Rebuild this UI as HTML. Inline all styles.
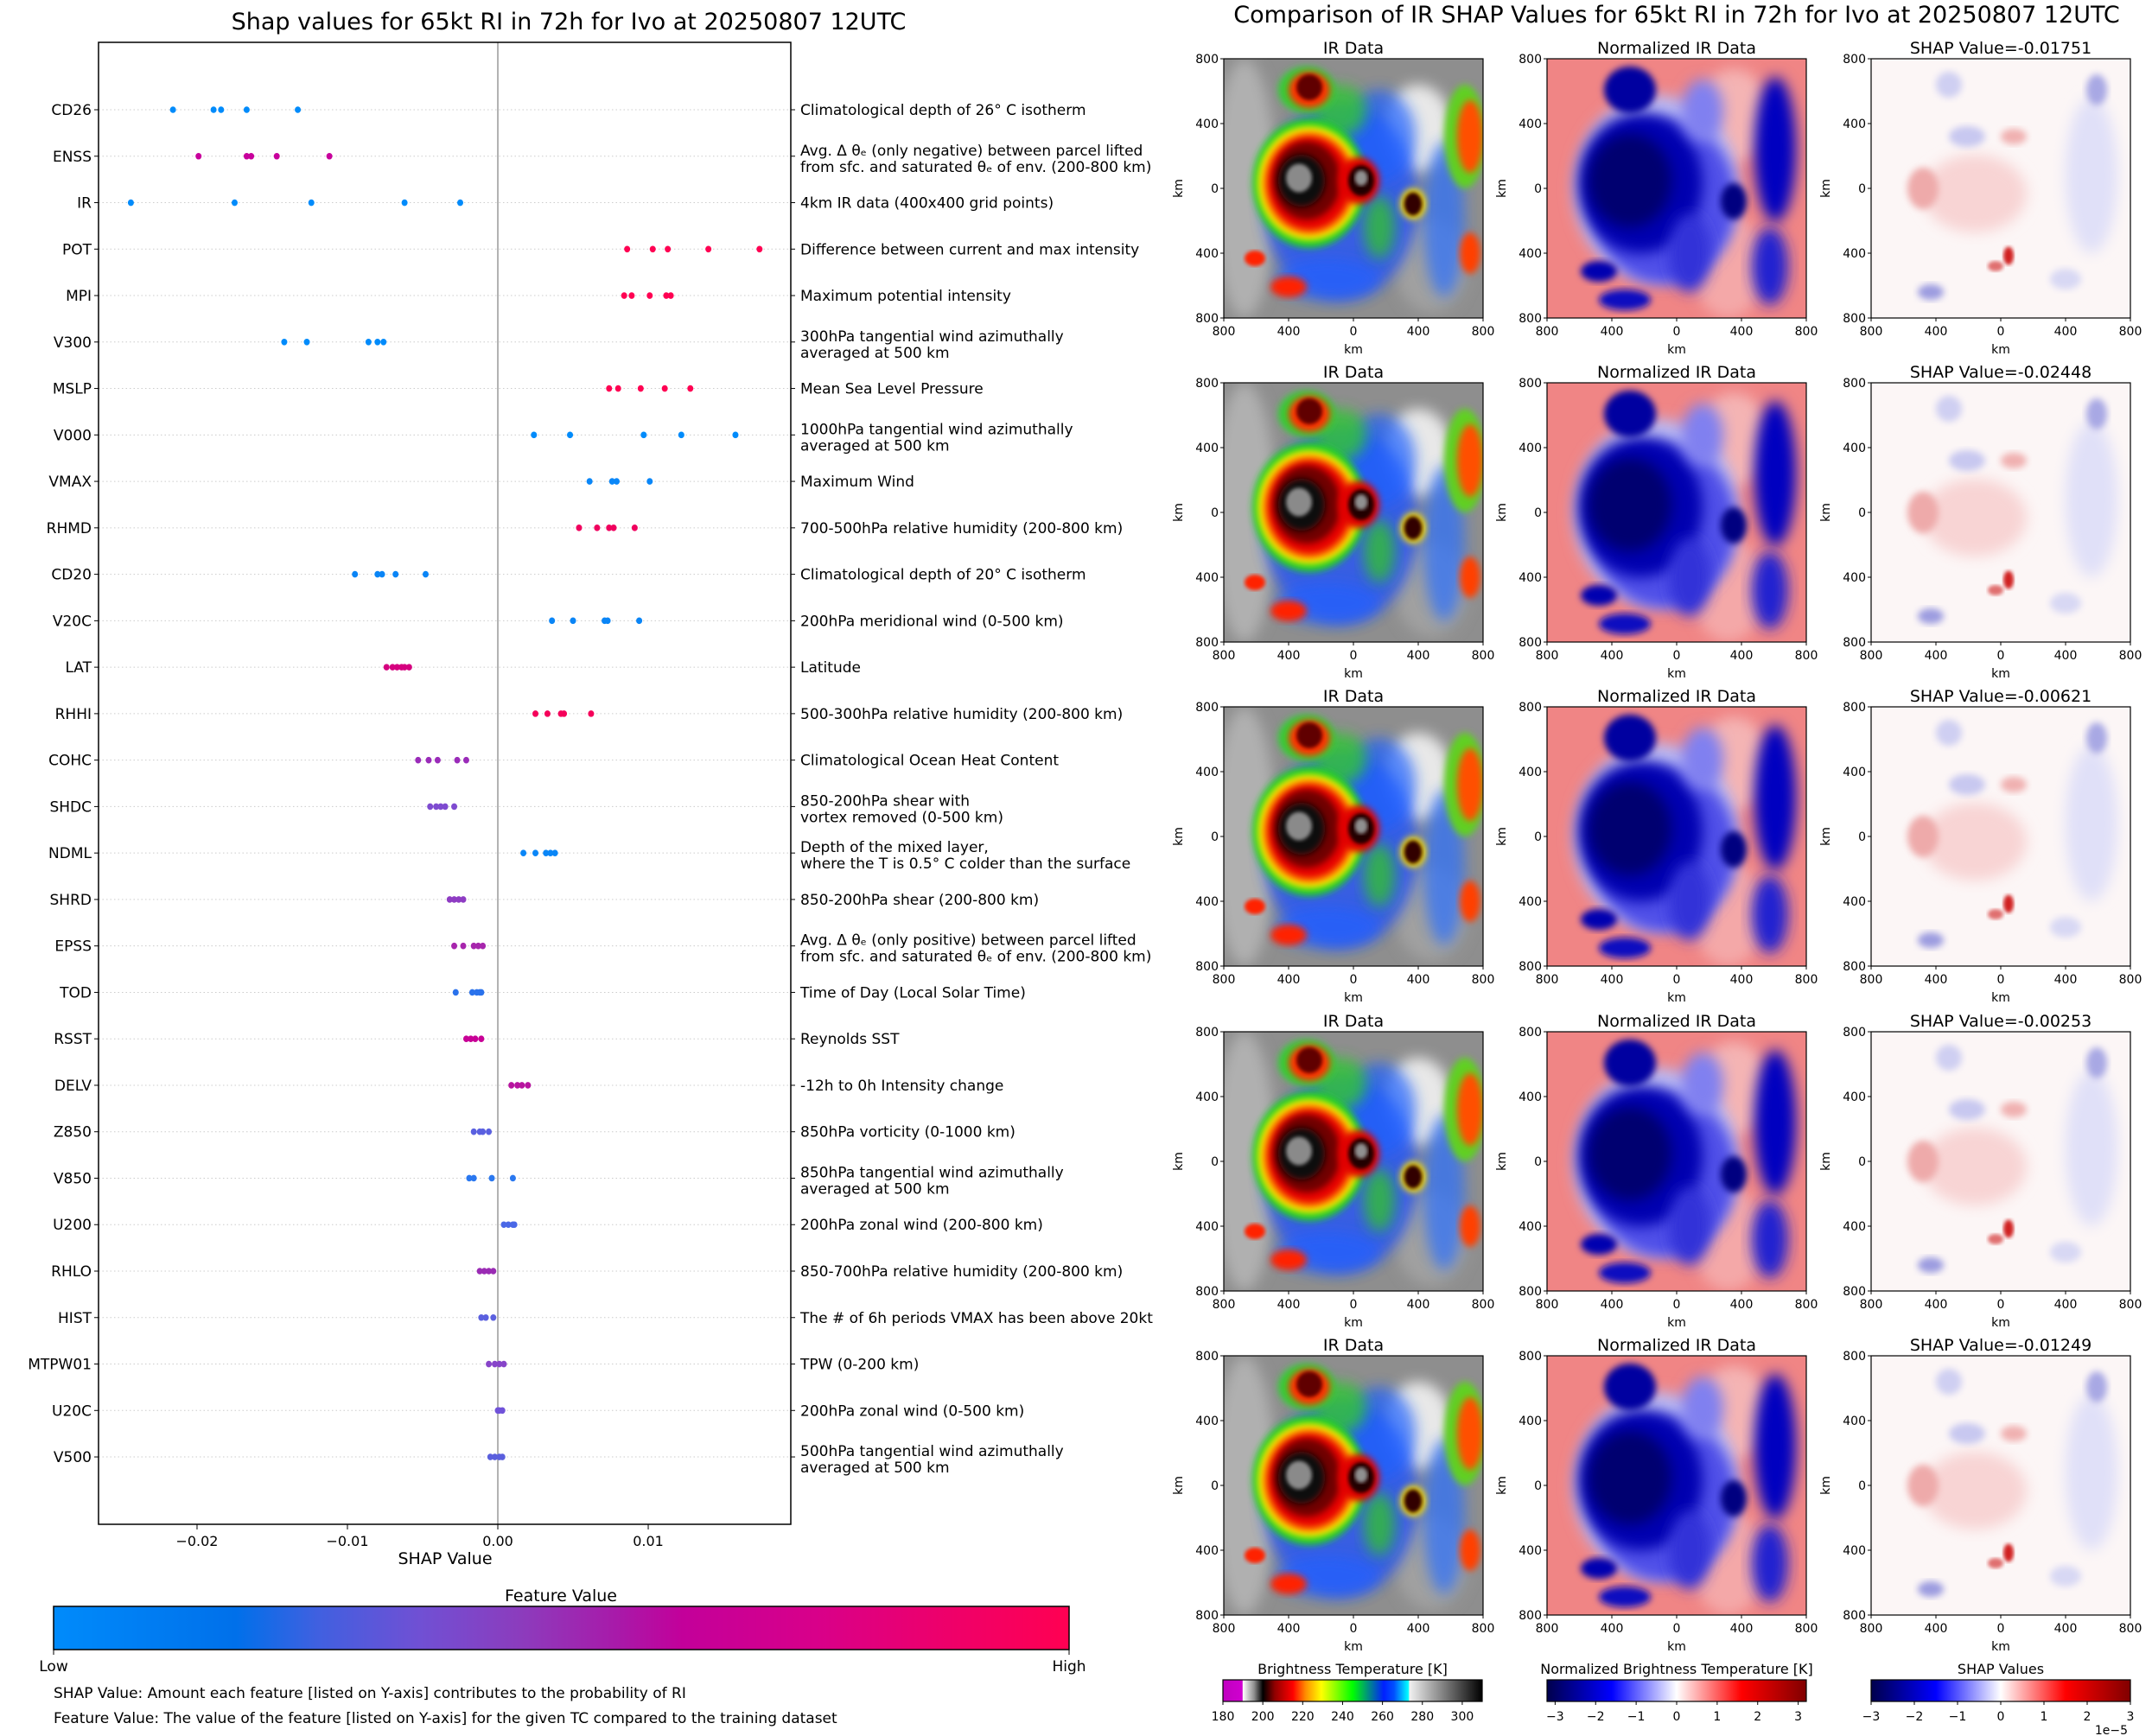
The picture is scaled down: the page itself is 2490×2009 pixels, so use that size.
<!DOCTYPE html>
<html><head><meta charset="utf-8"><style>
html,body{margin:0;padding:0;background:#fff;}
svg{display:block;font-family:"DejaVu Sans","Liberation Sans",sans-serif;}
</style></head><body>
<svg id="root" xmlns="http://www.w3.org/2000/svg" width="2490" height="2009" viewBox="0 0 2490 2009">
<defs>
<filter id="b4" x="-20%" y="-20%" width="140%" height="140%"><feGaussianBlur stdDeviation="4"/></filter>
<filter id="b8" x="-30%" y="-30%" width="160%" height="160%"><feGaussianBlur stdDeviation="8"/></filter>
<filter id="b2"><feGaussianBlur stdDeviation="2"/></filter>
<linearGradient id="fvGrad" x1="0" x2="1" y1="0" y2="0">
<stop offset="0" stop-color="#008bfb"/><stop offset="0.18" stop-color="#0070ea"/><stop offset="0.26" stop-color="#4060e0"/>
<stop offset="0.36" stop-color="#7050d4"/><stop offset="0.46" stop-color="#8c3cbd"/><stop offset="0.56" stop-color="#aa18a8"/>
<stop offset="0.62" stop-color="#c3009a"/><stop offset="0.75" stop-color="#d8008a"/><stop offset="0.88" stop-color="#ee006a"/><stop offset="1" stop-color="#ff0052"/>
</linearGradient>
<linearGradient id="btGrad" x1="0" x2="1" y1="0" y2="0">
<stop offset="0" stop-color="#c000c0"/><stop offset="0.075" stop-color="#d000d0"/><stop offset="0.077" stop-color="#ffffff"/>
<stop offset="0.12" stop-color="#909090"/><stop offset="0.154" stop-color="#000000"/><stop offset="0.2" stop-color="#900000"/>
<stop offset="0.27" stop-color="#ff0000"/><stop offset="0.32" stop-color="#ff9000"/><stop offset="0.38" stop-color="#ffff00"/>
<stop offset="0.5" stop-color="#00ff00"/><stop offset="0.62" stop-color="#0020ff"/><stop offset="0.66" stop-color="#0050ff"/>
<stop offset="0.715" stop-color="#00ffff"/><stop offset="0.72" stop-color="#f0f0f0"/><stop offset="1" stop-color="#000000"/>
</linearGradient>
<linearGradient id="seisGrad" x1="0" x2="1" y1="0" y2="0">
<stop offset="0" stop-color="#00004c"/><stop offset="0.25" stop-color="#0000ff"/><stop offset="0.5" stop-color="#ffffff"/>
<stop offset="0.75" stop-color="#ff0000"/><stop offset="1" stop-color="#800000"/>
</linearGradient>
</defs>
<text x="658" y="34" font-size="27" text-anchor="middle" fill="#000">Shap values for 65kt RI in 72h for Ivo at 20250807 12UTC</text>
<text x="1940" y="26" font-size="27" text-anchor="middle" fill="#000">Comparison of IR SHAP Values for 65kt RI in 72h for Ivo at 20250807 12UTC</text>
<g id="shapChart"></g>
<g id="panels"></g>
</svg>
<script>
const features=["CD26","ENSS","IR","POT","MPI","V300","MSLP","V000","VMAX","RHMD","CD20","V20C","LAT","RHHI","COHC","SHDC","NDML","SHRD","EPSS","TOD","RSST","DELV","Z850","V850","U200","RHLO","HIST","MTPW01","U20C","V500"];
const descriptions=[
["Climatological depth of 26° C isotherm"],
["Avg. Δ θₑ (only negative) between parcel lifted","from sfc. and saturated θₑ of env. (200-800 km)"],
["4km IR data (400x400 grid points)"],
["Difference between current and max intensity"],
["Maximum potential intensity"],
["300hPa tangential wind azimuthally","averaged at 500 km"],
["Mean Sea Level Pressure"],
["1000hPa tangential wind azimuthally","averaged at 500 km"],
["Maximum Wind"],
["700-500hPa relative humidity (200-800 km)"],
["Climatological depth of 20° C isotherm"],
["200hPa meridional wind (0-500 km)"],
["Latitude"],
["500-300hPa relative humidity (200-800 km)"],
["Climatological Ocean Heat Content"],
["850-200hPa shear with","vortex removed (0-500 km)"],
["Depth of the mixed layer,","where the T is 0.5° C colder than the surface"],
["850-200hPa shear (200-800 km)"],
["Avg. Δ θₑ (only positive) between parcel lifted","from sfc. and saturated θₑ of env. (200-800 km)"],
["Time of Day (Local Solar Time)"],
["Reynolds SST"],
["-12h to 0h Intensity change"],
["850hPa vorticity (0-1000 km)"],
["850hPa tangential wind azimuthally","averaged at 500 km"],
["200hPa zonal wind (200-800 km)"],
["850-700hPa relative humidity (200-800 km)"],
["The # of 6h periods VMAX has been above 20kt"],
["TPW (0-200 km)"],
["200hPa zonal wind (0-500 km)"],
["500hPa tangential wind azimuthally","averaged at 500 km"]];
const shapValues=[
[-0.0216,-0.0189,-0.0184,-0.0167,-0.0133],
[-0.0199,-0.0167,-0.0164,-0.0147,-0.0112],
[-0.0244,-0.0175,-0.0124,-0.0062,-0.0025],
[0.0086,0.0103,0.0113,0.0140,0.0174],
[0.0084,0.0089,0.0101,0.0112,0.0115],
[-0.0142,-0.0127,-0.0086,-0.0080,-0.0076],
[0.0074,0.0080,0.0095,0.0111,0.0128],
[0.0024,0.0048,0.0097,0.0122,0.0158],
[0.0061,0.0076,0.0079,0.0101],
[0.0054,0.0066,0.0074,0.0077,0.0091],
[-0.0095,-0.0080,-0.0077,-0.0068,-0.0048],
[0.0036,0.0050,0.0071,0.0073,0.0094],
[-0.0074,-0.0070,-0.0067,-0.0064,-0.0062,-0.0059],
[0.0025,0.0033,0.0042,0.0044,0.0062],
[-0.0053,-0.0046,-0.0040,-0.0027,-0.0021],
[-0.0045,-0.0041,-0.0038,-0.0035,-0.0029],
[0.0017,0.0025,0.0032,0.0035,0.0038],
[-0.0032,-0.0029,-0.0026,-0.0023],
[-0.0029,-0.0023,-0.0016,-0.0013,-0.0010],
[-0.0028,-0.0017,-0.0014,-0.0012,-0.0011],
[-0.0021,-0.0018,-0.0015,-0.0011],
[0.0009,0.0013,0.0016,0.0020],
[-0.0016,-0.0012,-0.0010,-0.0006],
[-0.0019,-0.0016,-0.0004,0.0010],
[0.0004,0.0007,0.0010,0.0011],
[-0.0012,-0.0009,-0.0006,-0.0003],
[-0.0011,-0.0008,-0.0003],
[-0.0006,-0.0002,0.0001,0.0004],
[0.0000,0.0001,0.0003],
[-0.0005,-0.0002,0.0001,0.0003]];
const dotColors=["#008bfb","#c8009c","#008bfb","#ff0052","#ff0052","#008bfb","#ff0052","#008bfb","#0a87f8","#f0005e","#0a85f6","#0a85f6","#d5007f","#f5005a","#9a2bb9","#7e4bd0","#0a86f7","#8e3cc3","#a726ad","#2a72ec","#c80096","#b7149f","#5a60e0","#2a78f0","#4a68e6","#9a2bb4","#5b60df","#8744c9","#7052d9","#5a5fdd"];
const xTicks=[-0.02,-0.01,0.0,0.01];
const xTickLabels=["−0.02","−0.01","0.00","0.01"];

const NS="http://www.w3.org/2000/svg";
function mk(tag,attrs,parent,txt){const e=document.createElementNS(NS,tag);for(const k in attrs)e.setAttribute(k,attrs[k]);if(txt!==undefined)e.textContent=txt;parent.appendChild(e);return e;}

const AX={l:114,r:915,t:49,b:1764};
const xMin=-0.02655,xMax=0.01948;
function xs(v){return AX.l+(v-xMin)/(xMax-xMin)*(AX.r-AX.l);}
const rowStep=53.76;
function ys(i){return 127+i*rowStep;}

const C=document.getElementById('shapChart');
features.forEach((f,i)=>{
  const y=ys(i);
  const gl=mk('line',{x1:AX.l,x2:AX.r,y1:y,y2:y,stroke:'#ccc','stroke-width':1,'stroke-dasharray':'1.5 3'},C);
  
  
  mk('line',{x1:AX.l-5,x2:AX.l,y1:y,y2:y,stroke:'#000'},C);
  mk('line',{x1:AX.r,x2:AX.r+5,y1:y,y2:y,stroke:'#000'},C);
  const t=mk('text',{x:AX.l-8,y:y+6,'font-size':17,'text-anchor':'end',fill:'#000'},C,f);
  
  
  const d=descriptions[i];
  if(d.length===1){
    const dt=mk('text',{x:926,y:y+6,'font-size':17,fill:'#000'},C,d[0]);
    
    
  }else{
    const dt=mk('text',{x:926,y:y-1,'font-size':17,fill:'#000'},C,d[0]);
    
    
    const dt2=mk('text',{x:926,y:y+18,'font-size':17,fill:'#000'},C,d[1]);
    
    
  }
});
const zl=mk('line',{x1:xs(0),x2:xs(0),y1:AX.t,y2:AX.b,stroke:'#999','stroke-width':1.5},C);


shapValues.forEach((vals,i)=>{
  vals.forEach(v=>{
    const c=mk('ellipse',{cx:xs(v),cy:ys(i),rx:3.5,ry:3.8,fill:dotColors[i]},C);
    
    
  });
});
const fr=mk('rect',{x:AX.l,y:AX.t,width:AX.r-AX.l,height:AX.b-AX.t,fill:'none',stroke:'#000','stroke-width':1.5},C);


xTicks.forEach((v,k)=>{
  const x=xs(v);
  mk('line',{x1:x,x2:x,y1:AX.b,y2:AX.b+6,stroke:'#000'},C);
  const t=mk('text',{x:x,y:AX.b+25,'font-size':16,'text-anchor':'middle',fill:'#000'},C,xTickLabels[k]);
  
  
});
const xl=mk('text',{x:515,y:1810,'font-size':19,'text-anchor':'middle',fill:'#000'},C,'SHAP Value');


const ft=mk('text',{x:649,y:1853,'font-size':19,'text-anchor':'middle',fill:'#000'},C,'Feature Value');


const cb=mk('rect',{x:62,y:1859,width:1175,height:50,fill:'url(#fvGrad)',stroke:'#000','stroke-width':1.5},C);


mk('line',{x1:62,x2:62,y1:1909,y2:1915,stroke:'#000'},C);
mk('line',{x1:1237,x2:1237,y1:1909,y2:1915,stroke:'#000'},C);
const lo=mk('text',{x:62,y:1934,'font-size':17,'text-anchor':'middle',fill:'#000'},C,'Low');


const hi=mk('text',{x:1237,y:1934,'font-size':17,'text-anchor':'middle',fill:'#000'},C,'High');


const n1=mk('text',{x:62,y:1965,'font-size':17,fill:'#000'},C,'SHAP Value: Amount each feature [listed on Y-axis] contributes to the probability of RI');


const n2=mk('text',{x:62,y:1994,'font-size':17,fill:'#000'},C,'Feature Value: The value of the feature [listed on Y-axis] for the given TC compared to the training dataset');



// ---- right panels ----
const rowTops=[68,443,818,1194,1569];
const colXs=[1416,1790,2165];
const shapTitles=["SHAP Value=-0.01751","SHAP Value=-0.02448","SHAP Value=-0.00621","SHAP Value=-0.00253","SHAP Value=-0.01249"];
const P=document.getElementById('panels');
const S=300;
// blobs: [u,v,rx,ry,color,blur,opacity]; first entry = background fill
const irBlobs=[
['bg','#8e8e8e'],
[0.08,0.5,0.12,0.5,'#b0b0b0','b8'],
[0.75,0.27,0.13,0.17,'#e8e8e8','b8'],
[0.8,0.8,0.14,0.18,'#a0a0a0','b8'],
[0.45,0.55,0.3,0.38,'#1a50ff','b8',0.75],
[0.6,0.3,0.14,0.18,'#1a60ff','b8',0.7],
[0.4,0.85,0.2,0.08,'#2060ff','b8',0.7],
[0.85,0.62,0.08,0.3,'#2a70ff','b8',0.7],
[0.45,0.2,0.1,0.1,'#30c830','b8',0.8],
[0.33,0.48,0.22,0.25,'#20d020','b4'],
[0.32,0.12,0.11,0.09,'#30d030','b4'],
[0.93,0.3,0.08,0.2,'#60d020','b4'],
[0.6,0.65,0.06,0.12,'#30c030','b8',0.8],
[0.33,0.48,0.2,0.22,'#f0f000','b4'],
[0.33,0.48,0.18,0.2,'#ff8000','b4'],
[0.33,0.48,0.16,0.18,'#e80000','b4'],
[0.32,0.47,0.13,0.15,'#700000','b4'],
[0.3,0.47,0.09,0.1,'#101010','b4'],
[0.29,0.46,0.05,0.055,'#8a8a8a','b2'],
[0.52,0.47,0.08,0.09,'#e00000','b4'],
[0.53,0.47,0.05,0.06,'#200000','b2'],
[0.53,0.46,0.025,0.03,'#909090','b2'],
[0.33,0.12,0.08,0.07,'#ff3000','b4'],
[0.33,0.11,0.05,0.05,'#600000','b2'],
[0.95,0.3,0.05,0.14,'#ff5000','b4'],
[0.73,0.56,0.05,0.06,'#ffe000','b4'],
[0.73,0.56,0.035,0.045,'#300000','b2'],
[0.25,0.88,0.07,0.04,'#ff2000','b4'],
[0.12,0.77,0.04,0.03,'#ff2000','b2'],
[0.95,0.75,0.04,0.08,'#ff4000','b4']];
const nirBlobs=[
['bg','#f08585'],
[0.72,0.22,0.14,0.18,'#f4b4b4','b8'],
[0.7,0.8,0.14,0.2,'#f4a8a8','b8'],
[0.42,0.5,0.32,0.36,'#b8b8f4','b8'],
[0.45,0.55,0.28,0.32,'#5050e8','b8'],
[0.36,0.48,0.24,0.27,'#0000b0','b8'],
[0.32,0.47,0.16,0.18,'#000070','b8'],
[0.32,0.12,0.1,0.09,'#0000a0','b4'],
[0.6,0.2,0.08,0.12,'#8080f0','b8'],
[0.88,0.35,0.08,0.28,'#0000c0','b8'],
[0.86,0.8,0.07,0.15,'#2020d0','b8'],
[0.55,0.75,0.08,0.15,'#3030d8','b8'],
[0.2,0.82,0.07,0.04,'#0000b0','b4'],
[0.3,0.93,0.1,0.04,'#1010c0','b4'],
[0.72,0.55,0.05,0.07,'#000080','b4']];
const shapBlobs=[
['bg','#fcf6f6'],
[0.4,0.52,0.2,0.15,'#f8d4d4','b8'],
[0.2,0.5,0.06,0.08,'#eeaaaa','b4'],
[0.37,0.3,0.07,0.04,'#c8c8f0','b4'],
[0.85,0.45,0.1,0.3,'#e0e0f8','b8'],
[0.87,0.12,0.04,0.06,'#a8a8e4','b4'],
[0.3,0.1,0.05,0.05,'#cfcff2','b4'],
[0.53,0.76,0.02,0.035,'#d02020','b2'],
[0.48,0.8,0.03,0.02,'#e07070','b2'],
[0.23,0.9,0.05,0.03,'#9c9ce0','b4'],
[0.55,0.3,0.05,0.03,'#f0b0b0','b4'],
[0.75,0.85,0.06,0.04,'#d8d8f4','b4']];
const yTickLabels=["800","400","0","400","800"];
const xTickLabelsKm=["800","400","0","400","800"];
function panel(x0,y0,blobs,title,id){
  const g=mk('g',{},P);
  
  
  const cp=mk('clipPath',{id:'cp'+id},g);
  mk('rect',{x:x0,y:y0,width:S,height:S},cp);
  const im=mk('g',{'clip-path':'url(#cp'+id+')'},g);
  blobs.forEach(b=>{
    if(b[0]==='bg'){mk('rect',{x:x0,y:y0,width:S,height:S,fill:b[1]},im);return;}
    const a={cx:x0+b[0]*S,cy:y0+b[1]*S,rx:b[2]*S,ry:b[3]*S,fill:b[4]};
    if(b[5])a.filter='url(#'+b[5]+')';
    if(b[6])a.opacity=b[6];
    mk('ellipse',a,im);
  });
  mk('rect',{x:x0,y:y0,width:S,height:S,fill:'none',stroke:'#000','stroke-width':1.2},g);
  for(let k=0;k<5;k++){
    const yy=y0+k*S/4, xx=x0+k*S/4;
    mk('line',{x1:x0-4,x2:x0,y1:yy,y2:yy,stroke:'#000'},g);
    mk('text',{x:x0-6,y:yy+5,'font-size':14,'text-anchor':'end',fill:'#000'},g,yTickLabels[k]);
    mk('line',{x1:xx,x2:xx,y1:y0+S,y2:y0+S+4,stroke:'#000'},g);
    mk('text',{x:xx,y:y0+S+20,'font-size':14,'text-anchor':'middle',fill:'#000'},g,xTickLabelsKm[k]);
  }
  mk('text',{x:x0+S/2,y:y0+S+41,'font-size':14,'text-anchor':'middle',fill:'#000'},g,'km');
  mk('text',{x:x0-48,y:y0+S/2,'font-size':14,'text-anchor':'middle',fill:'#000',transform:'rotate(-90 '+(x0-48)+' '+(y0+S/2)+')'},g,'km');
  const t=mk('text',{x:x0+S/2,y:y0-6,'font-size':19,'text-anchor':'middle',fill:'#000'},g,title);
  
  
}
rowTops.forEach((y0,r)=>{
  panel(colXs[0],y0,irBlobs,'IR Data','ir-data-panel-'+(r+1));
  panel(colXs[1],y0,nirBlobs,'Normalized IR Data','normalized-ir-panel-'+(r+1));
  panel(colXs[2],y0,shapBlobs,shapTitles[r],'shap-map-panel-'+(r+1));
});
function cbar(x0,grad,label,ticks,tmin,tmax,name){
  const g=mk('g',{},P);
  
  
  mk('text',{x:x0+150,y:1937,'font-size':16,'text-anchor':'middle',fill:'#000'},g,label);
  mk('rect',{x:x0,y:1944,width:300,height:25,fill:'url(#'+grad+')',stroke:'#000','stroke-width':1.2},g);
  ticks.forEach(t=>{
    const x=x0+(t-tmin)/(tmax-tmin)*300;
    mk('line',{x1:x,x2:x,y1:1969,y2:1973,stroke:'#000'},g);
    mk('text',{x:x,y:1991,'font-size':14,'text-anchor':'middle',fill:'#000'},g,String(t).replace('-','−'));
  });
}
cbar(1415,'btGrad','Brightness Temperature [K]',[180,200,220,240,260,280,300],180,310,'brightness-temperature-colorbar');
cbar(1790,'seisGrad','Normalized Brightness Temperature [K]',[-3,-2,-1,0,1,2,3],-3.2,3.2,'normalized-bt-colorbar');
cbar(2165,'seisGrad','SHAP Values',[-3,-2,-1,0,1,2,3],-3,3,'shap-values-colorbar');
const ex=mk('text',{x:2462,y:2007,'font-size':14,'text-anchor':'end',fill:'#000'},P,'1e−5');


</script>
</body></html>
